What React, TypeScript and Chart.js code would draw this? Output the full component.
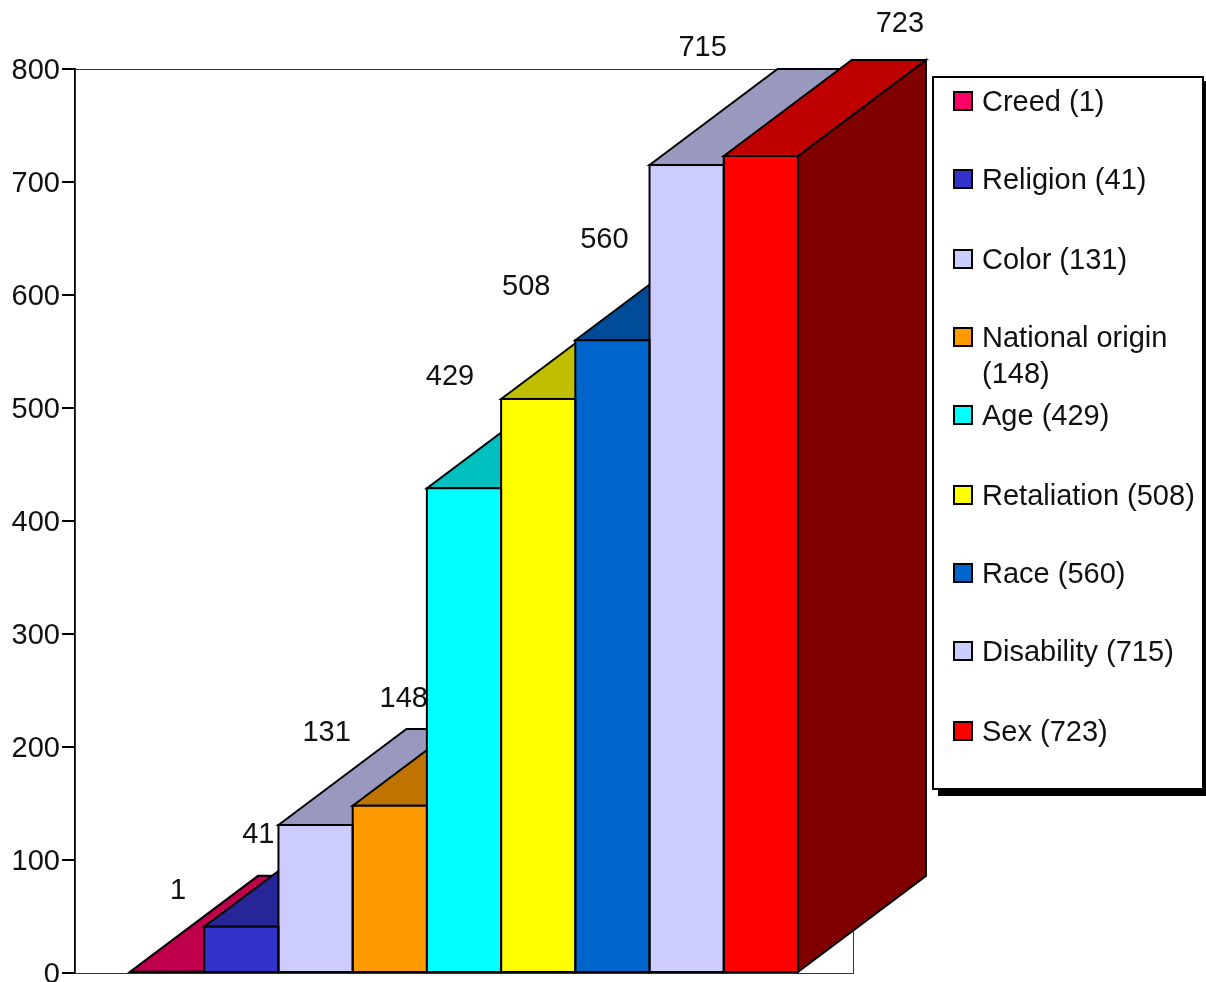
import React, { useEffect, useRef } from "react";
import { Chart, registerables } from "chart.js";

Chart.register(...registerables);

const categories = ["Creed", "Religion", "Color", "National origin", "Age", "Retaliation", "Race", "Disability", "Sex"];
const counts = [1, 41, 131, 148, 429, 508, 560, 715, 723];
const frontColors = ["#ff0066", "#3333cc", "#ccccff", "#ff9900", "#00ffff", "#ffff00", "#0066cc", "#ccccff", "#ff0000"];
const topColors = ["#bf004c", "#262699", "#9999bf", "#bf7300", "#00bfbf", "#bfbf00", "#004c99", "#9999bf", "#bf0000"];
const sideColors = ["#800033", "#1a1a66", "#666680", "#804d00", "#008080", "#808000", "#003366", "#666680", "#800000"];

// Hand-placed value labels, relative to the front top-centre of each column.
const labelOffsets: [number, number][] = [
  [11, -81], [17, -92], [11, -92], [14, -107], [-14, -111], [-12, -112], [-8, -100], [16, -117], [139, -132],
];

// Vertical centres of the legend rows; National origin wraps on two lines.
const legendRows = [101, 179, 259, 337, 415, 495, 573, 651, 731];
const legendLines = (i: number): string[] =>
  categories[i] === "National origin"
    ? ["National origin", `(${counts[i]})`]
    : [`${categories[i]} (${counts[i]})`];

const FONT = '29px "Liberation Sans", Arial, sans-serif';
const TEXT = "#111111";
const DEPTH_X = 128;
const DEPTH_Y = 96;

const poly = (ctx: CanvasRenderingContext2D, pts: number[][], fill: string) => {
  ctx.beginPath();
  pts.forEach(([x, y], i) => (i ? ctx.lineTo(x, y) : ctx.moveTo(x, y)));
  ctx.closePath();
  ctx.fillStyle = fill;
  ctx.fill();
  ctx.stroke();
};

const barRect = (chart: Chart, i: number) => {
  const el: any = chart.getDatasetMeta(i).data[0];
  const half = el.width / 2;
  return { l: el.x - half, r: el.x + half, t: el.y, b: el.base, cx: el.x };
};

// Plot frame plus the top and side faces of every column, left to right.
const columnDepth = {
  id: "columnDepth",
  beforeDatasetsDraw(chart: Chart) {
    const { ctx, chartArea: a } = chart;
    ctx.save();
    ctx.strokeStyle = "#333333";
    ctx.lineWidth = 1;
    ctx.strokeRect(a.left + 0.5, a.top + 0.5, a.right - a.left, a.bottom - a.top);
    ctx.strokeStyle = "#000000";
    ctx.lineWidth = 2;
    ctx.lineJoin = "miter";
    counts.forEach((_, i) => {
      const { l, r, t, b } = barRect(chart, i);
      poly(ctx, [[r, b], [r + DEPTH_X, b - DEPTH_Y], [r + DEPTH_X, t - DEPTH_Y], [r, t]], sideColors[i]);
      poly(ctx, [[l, t], [l + DEPTH_X, t - DEPTH_Y], [r + DEPTH_X, t - DEPTH_Y], [r, t]], topColors[i]);
    });
    ctx.restore();
  },
  // Column outlines, centred on the edges so neighbours share one line.
  afterDatasetsDraw(chart: Chart) {
    const { ctx } = chart;
    ctx.save();
    ctx.strokeStyle = "#000000";
    ctx.lineWidth = 2;
    counts.forEach((_, i) => {
      const { l, r, t, b } = barRect(chart, i);
      ctx.strokeRect(l, t, r - l, b - t);
    });
    ctx.restore();
  },
  afterDraw(chart: Chart) {
    const { ctx } = chart;
    ctx.save();
    ctx.font = FONT;
    ctx.fillStyle = TEXT;
    ctx.textAlign = "center";
    ctx.textBaseline = "middle";
    counts.forEach((v, i) => {
      const { cx, t } = barRect(chart, i);
      ctx.fillText(String(v), cx + labelOffsets[i][0], t + labelOffsets[i][1]);
    });

    // Legend panel with its drop shadow.
    ctx.fillStyle = "#000000";
    ctx.fillRect(938, 81, 268, 715);
    ctx.fillStyle = "#ffffff";
    ctx.fillRect(933, 77, 270, 712);
    ctx.strokeStyle = "#000000";
    ctx.lineWidth = 2;
    ctx.strokeRect(933, 77, 270, 712);
    ctx.textAlign = "left";
    legendRows.forEach((y, i) => {
      ctx.fillStyle = frontColors[i];
      ctx.fillRect(954, y - 9, 18, 18);
      ctx.strokeRect(954, y - 9, 18, 18);
      ctx.fillStyle = TEXT;
      legendLines(i).forEach((line, k) => ctx.fillText(line, 982, y + 2 + k * 36));
    });
    ctx.restore();
  },
};

export default function App() {
  const ref = useRef<HTMLCanvasElement>(null);
  useEffect(() => {
    const chart = new Chart(ref.current!, {
      type: "bar",
      data: {
        labels: ["Complaints"],
        datasets: categories.map((name, i) => ({
          label: name,
          data: [counts[i]],
          backgroundColor: frontColors[i],
          borderWidth: 0,
          barPercentage: 1,
          categoryPercentage: 0.8585,
        })),
      },
      options: {
        animation: false,
        responsive: false,
        layout: { padding: { left: 0, top: 69, right: 353, bottom: 9 } },
        plugins: { legend: { display: false }, tooltip: { enabled: false } },
        scales: {
          x: { display: false },
          y: {
            min: 0,
            max: 800,
            // Fixed gutter; the "0" label may run off the bottom edge.
            afterFit: (s: any) => {
              s.width = 75;
              s.paddingTop = 0;
              s.paddingBottom = 0;
            },
            border: { color: "#000000", width: 2 },
            grid: { drawOnChartArea: false, color: "#000000", lineWidth: 2, tickLength: 13 },
            ticks: {
              stepSize: 100,
              padding: 2,
              labelOffset: 2,
              color: TEXT,
              font: { family: '"Liberation Sans", Arial, sans-serif', size: 29 },
            },
          },
        },
      },
      plugins: [columnDepth],
    });
    return () => chart.destroy();
  }, []);
  return (
    <canvas
      ref={ref}
      width={1206}
      height={982}
      style={{ position: "fixed", left: 0, top: 0, width: 1206, height: 982 }}
    />
  );
}
